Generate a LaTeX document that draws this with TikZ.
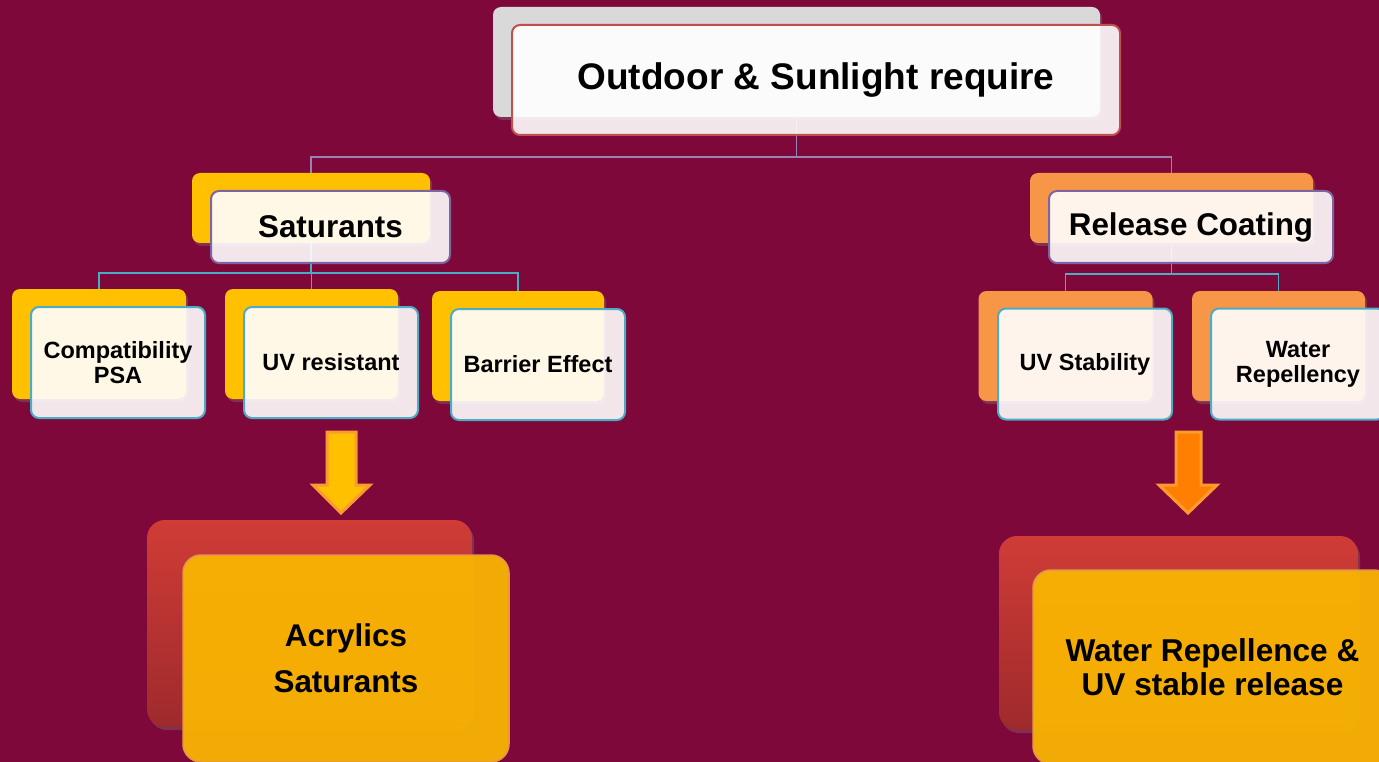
\documentclass[tikz,border=0pt]{standalone}
\usepackage{fontspec}
\setmainfont{Liberation Sans}
\usetikzlibrary{shadows}
\definecolor{bgred}{RGB}{126,8,58}
\definecolor{topgray}{RGB}{217,217,217}
\definecolor{gold}{RGB}{255,192,0}
\definecolor{peach}{RGB}{247,150,70}
\definecolor{brickred}{RGB}{192,80,77}
\definecolor{lilac}{RGB}{128,100,162}
\definecolor{teal}{RGB}{75,172,198}
\definecolor{amber}{RGB}{249,180,2}
\definecolor{amberline}{RGB}{228,150,80}
\definecolor{redtop}{RGB}{208,60,54}
\definecolor{redbot}{RGB}{158,42,44}
\definecolor{arrline}{RGB}{250,155,48}
\definecolor{deeporange}{RGB}{255,128,0}
\tikzset{
  backbox/.style={rounded corners=8pt,inner sep=0pt,
    drop shadow={shadow xshift=2pt,shadow yshift=-3pt,opacity=0.35}},
  frontbox/.style={rounded corners=8pt,inner sep=0pt,draw,line width=2pt,
    fill=white,fill opacity=0.9,text opacity=1,align=center,font=\bfseries},
  bigbox/.style={rounded corners=18pt,inner sep=0pt,
    minimum width=325pt,minimum height=207pt},
  toplink/.style={draw=lilac!80!white,line width=1.8pt},
  sublink/.style={draw=teal,line width=1.8pt},
  blockarrow/.style={draw=arrline,line width=3pt,line join=miter}
}
\begin{document}
\begin{tikzpicture}[x=1pt,y=-1pt]
  \fill[bgred] (0,0) rectangle (1379,762);
  \useasboundingbox (0,0) rectangle (1379,762);
  % back boxes
  \begin{scope}[every node/.style={backbox}]
  \node[fill=topgray,minimum width=607pt,minimum height=110pt] (tb) at (796.5,62) {};
  \node[fill=gold,minimum width=238pt,minimum height=70pt] (sb) at (311,208) {};
  \node[fill=peach,minimum width=283pt,minimum height=70pt] (rb) at (1171.5,208) {};
  \node[fill=gold,minimum width=174pt,minimum height=110pt] (cb) at (99,344) {};
  \node[fill=gold,minimum width=173pt,minimum height=110pt] (ub) at (311.5,344) {};
  \node[fill=gold,minimum width=172pt,minimum height=110pt] (bb) at (518,346) {};
  \node[fill=peach,minimum width=174pt,minimum height=110pt] (sbb) at (1065.5,346) {};
  \node[fill=peach,minimum width=173pt,minimum height=110pt] (wb) at (1278.5,346) {};
  \end{scope}
  \node[backbox,bigbox,rounded corners=18pt,top color=redtop,bottom color=redbot] (ab) at (309.5,623.5) {};
  \node[backbox,bigbox,rounded corners=18pt,minimum width=359pt,minimum height=194pt,
    top color=redtop,bottom color=redbot] (rrb) at (1178.5,633) {};
  % links
  \draw[toplink] (tb.south) -- ++(0,40) -| (sb.north);
  \draw[toplink] (tb.south) -- ++(0,40) -| (rb.north);
  \draw[sublink] (sb.south) -- ++(0,30) -| (cb.north);
  \draw[sublink] (sb.south) -- ++(0,30) -| (ub.north);
  \draw[sublink] (sb.south) -- ++(0,30) -| (bb.north);
  \draw[sublink] (rb.south) -- ++(0,31) -| (sbb.north);
  \draw[sublink] (rb.south) -- ++(0,31) -| (wb.north);
  % front boxes
  \node[frontbox,draw=brickred,minimum width=608pt,minimum height=110pt,
    font=\fontsize{37}{44}\selectfont\bfseries] (t) at (816,80) {\raisebox{-3pt}{Outdoor \& Sunlight require}};
  \begin{scope}[every node/.style={frontbox,font=\fontsize{31.4}{38}\selectfont\bfseries}]
  \node[draw=lilac,minimum width=239pt,minimum height=72pt] (s) at (330.5,227) {Saturants};
  \node[draw=lilac,minimum width=284pt,minimum height=72pt] (r) at (1191,227) {Release Coating};
  \end{scope}
  \begin{scope}[every node/.style={frontbox,draw=teal,minimum width=174pt,minimum height=111pt,
    font=\fontsize{23.5}{25}\selectfont\bfseries}]
  \node (c) at (118,362.5) {Compatibility\\PSA};
  \node (u) at (331,362.5) {UV resistant};
  \node (b) at (538,364.5) {Barrier Effect};
  \node (sv) at (1085,364) {UV Stability};
  \node (w) at (1298,364) {Water\\Repellency};
  \end{scope}
  % arrows
  \draw[blockarrow,fill=gold] (327,432) -- (356,432) -- (356,485) -- (370,485)
    -- (341,513) -- (313,485) -- (327,485) -- cycle;
  \draw[blockarrow,fill=deeporange] (1176,432) -- (1201,432) -- (1201,485) -- (1217,485)
    -- (1188,513) -- (1159,485) -- (1176,485) -- cycle;
  % result boxes
  \node[bigbox,draw=amberline,line width=1.5pt,fill=amber,fill opacity=0.95,text opacity=1,
    minimum width=326pt,align=center,font=\fontsize{31.4}{46}\selectfont\bfseries]
    (a) at (346,658.5) {Acrylics\\Saturants};
  \node[bigbox,draw=amberline,line width=1.5pt,fill=amber,fill opacity=0.95,text opacity=1,
    minimum width=359pt,minimum height=194pt,align=center,font=\fontsize{31.6}{34}\selectfont\bfseries]
    (wr) at (1212.5,667) {Water Repellence \&\\UV stable release};
\end{tikzpicture}
\end{document}
